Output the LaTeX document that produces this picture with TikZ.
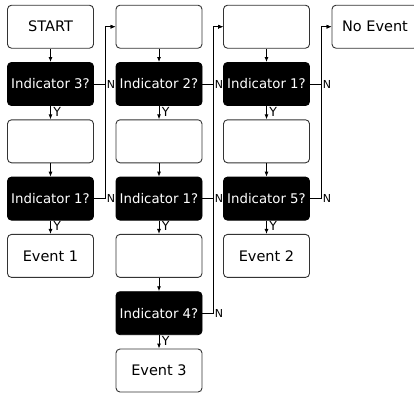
\documentclass[tikz,border=0pt]{standalone}
\usepackage{fontspec}
\setmainfont{DejaVu Sans}
\usetikzlibrary{arrows.meta}
\tikzset{
  box/.style={draw=black!80, line width=0.9pt, rounded corners=4pt, minimum width=86pt, minimum height=43pt, inner sep=0pt, font=\fontsize{14.5}{17}\selectfont, fill=white},
  ind/.style={box, fill=black, draw=black, text=white, font=\fontsize{13.3}{16}\selectfont},
  conn/.style={line width=0.9pt, -{Latex[length=5pt,width=4pt]}},
  ylab/.style={anchor=north west, inner sep=0pt, font=\fontsize{12.5}{14}\selectfont, xshift=2.5pt, yshift=-0.5pt},
  nlab/.style={anchor=west, inner sep=0pt, font=\fontsize{11}{12}\selectfont, xshift=1pt},
}
\begin{document}
\begin{tikzpicture}[x=1pt,y=1pt]
\clip (0,0) rectangle (414,-392);
% column 1
\node[box] (a1) at (50.5,-26.7) {START};
\node[ind] (a2) at (50.5,-84) {Indicator 3?};
\node[box] (a3) at (50.5,-141.3) {};
\node[ind] (a4) at (50.5,-198.6) {Indicator 1?};
\node[box] (a5) at (50.5,-255.9) {Event 1};
% column 2
\node[box] (b1) at (159,-26.7) {};
\node[ind] (b2) at (159,-84) {Indicator 2?};
\node[box] (b3) at (159,-141.3) {};
\node[ind] (b4) at (159,-198.6) {Indicator 1?};
\node[box] (b5) at (159,-255.9) {};
\node[ind] (b6) at (159,-313.2) {Indicator 4?};
\node[box] (b7) at (159,-370.5) {Event 3};
% column 3
\node[box] (c1) at (266.5,-26.7) {};
\node[ind] (c2) at (266.5,-84) {Indicator 1?};
\node[box] (c3) at (266.5,-141.3) {};
\node[ind] (c4) at (266.5,-198.6) {Indicator 5?};
\node[box] (c5) at (266.5,-255.9) {Event 2};
% column 4
\node[box] (d1) at (375,-26.7) {No Event};
% vertical flow
\draw[conn] (a1) -- (a2);
\draw[conn] (a2) -- node[ylab, pos=0]{Y} (a3);
\draw[conn] (a3) -- (a4);
\draw[conn] (a4) -- node[ylab, pos=0]{Y} (a5);
\draw[conn] (b1) -- (b2);
\draw[conn] (b2) -- node[ylab, pos=0]{Y} (b3);
\draw[conn] (b3) -- (b4);
\draw[conn] (b4) -- node[ylab, pos=0]{Y} (b5);
\draw[conn] (b5) -- (b6);
\draw[conn] (b6) -- node[ylab, pos=0]{Y} (b7);
\draw[conn] (c1) -- (c2);
\draw[conn] (c2) -- node[ylab, pos=0]{Y} (c3);
\draw[conn] (c3) -- (c4);
\draw[conn] (c4) -- node[ylab, pos=0]{Y} (c5);
% N branches
\draw[conn] (a2.east) -- ++(11.5,0) node[nlab]{N} |- (b1.west);
\draw[conn] (a4.east) -- ++(11.5,0) node[nlab]{N} |- (b1.west);
\draw[conn] (b2.east) -- ++(11,0) node[nlab]{N} |- (c1.west);
\draw[conn] (b4.east) -- ++(11,0) node[nlab]{N} |- (c1.west);
\draw[conn] (b6.east) -- ++(11,0) node[nlab]{N} |- (c1.west);
\draw[conn] (c2.east) -- ++(11.5,0) node[nlab]{N} |- (d1.west);
\draw[conn] (c4.east) -- ++(11.5,0) node[nlab]{N} |- (d1.west);
\end{tikzpicture}
\end{document}
